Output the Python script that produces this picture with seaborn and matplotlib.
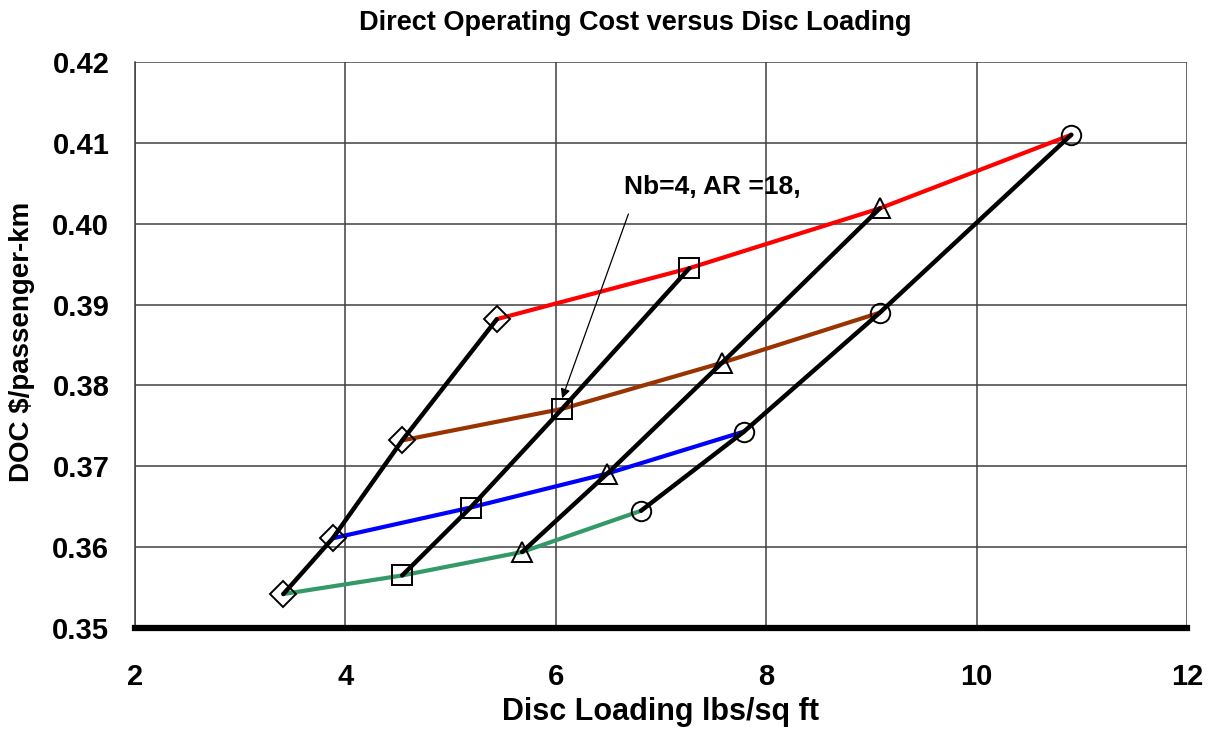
import pandas as pd
import numpy as np
import matplotlib
matplotlib.use("Agg")
import matplotlib.pyplot as plt
import seaborn as sns

# data (one black curve per marker type)
diamond_x = [3.41, 3.88, 4.54, 5.44]
diamond_y = [0.3542, 0.3611, 0.3732, 0.3882]
square_x = [4.54, 5.19, 6.06, 7.27]
square_y = [0.3565, 0.3649, 0.3771, 0.3945]
triangle_x = [5.68, 6.49, 7.58, 9.08]
triangle_y = [0.3594, 0.3691, 0.3828, 0.4019]
circle_x = [6.81, 7.79, 9.08, 10.90]
circle_y = [0.3645, 0.3743, 0.3890, 0.4110]

black_groups = {
    "diamond": (diamond_x, diamond_y, "D", 13),
    "square": (square_x, square_y, "s", 14),
    "triangle": (triangle_x, triangle_y, "^", 15),
    "circle": (circle_x, circle_y, "o", 14),
}
# colored curves join the i-th point of every black curve
cross_colors = ["#339966", "#0000FF", "#993300", "#FF0000"]

x_ticks = [2, 4, 6, 8, 10, 12]
y_ticks = [0.35, 0.36, 0.37, 0.38, 0.39, 0.40, 0.41, 0.42]
y_ticklabels = ["0.35", "0.36", "0.37", "0.38", "0.39", "0.40", "0.41", "0.42"]

sns.set_style("white")
plt.rcParams["font.family"] = ["Liberation Sans", "DejaVu Sans"]
plt.rcParams["font.weight"] = "bold"
plt.rcParams["text.color"] = "black"
plt.rcParams["xtick.color"] = "black"
plt.rcParams["ytick.color"] = "black"

fig = plt.figure(figsize=(12.17, 7.32), dpi=100)
ax = fig.add_axes([135 / 1217, 1 - 628 / 732, (1187 - 135) / 1217, (628 - 62) / 732])

rows = []
for name, (xs, ys, m, ms) in black_groups.items():
    for i, (x, y) in enumerate(zip(xs, ys)):
        rows.append({"group": name, "idx": i, "x": x, "y": y})
df = pd.DataFrame(rows)

# colored cross curves
for i, col in enumerate(cross_colors):
    sub = df[df["idx"] == i]
    sns.lineplot(data=sub, x="x", y="y", sort=False, color=col, linewidth=3.0,
                 ax=ax, zorder=3, legend=False)

# black curves with hollow markers
for name, (xs, ys, m, ms) in black_groups.items():
    sub = df[df["group"] == name]
    sns.lineplot(data=sub, x="x", y="y", sort=False, color="black", linewidth=3.2,
                 ax=ax, zorder=4, legend=False)
    ax.plot(sub["x"], sub["y"], linestyle="none", marker=m, markersize=ms,
            markerfacecolor="none", markeredgecolor="black", markeredgewidth=1.4,
            zorder=5)

ax.set_xlim(2, 12)
ax.set_ylim(0.35, 0.42)
ax.set_xticks(x_ticks)
ax.set_yticks(y_ticks)
ax.set_yticklabels(y_ticklabels)
ax.grid(True, color="#404040", linewidth=1.1)
ax.set_axisbelow(True)
for s in ["top", "right"]:
    ax.spines[s].set_visible(False)
ax.spines["left"].set_color("#404040")
ax.spines["left"].set_linewidth(1.1)
ax.spines["bottom"].set_color("black")
ax.spines["bottom"].set_linewidth(4.5)
ax.spines["bottom"].set_zorder(6)
ax.tick_params(axis="y", direction="out", length=8.5, width=1.1, color="#404040",
               pad=10, labelsize=21, labelcolor="black")
ax.tick_params(axis="x", direction="out", length=7, width=2.5, color="black",
               pad=18, labelsize=21, labelcolor="black")
for lab in ax.get_xticklabels() + ax.get_yticklabels():
    lab.set_fontweight("bold")

ax.set_xlabel("")
ax.set_ylabel("")
fig.text((135 + 1187) / 2 / 1217, 1 - 712 / 732, "Disc Loading lbs/sq ft",
         ha="center", va="center", fontsize=22, fontweight="bold", color="black")
fig.text(22 / 1217, 1 - 342 / 732, "DOC $/passenger-km", rotation=90,
         ha="center", va="center", fontsize=20, fontweight="bold", color="black")
fig.text(635 / 1217, 1 - 23 / 732, "Direct Operating Cost versus Disc Loading",
         ha="center", va="center", fontsize=19.5, fontweight="bold", color="black")

ax.text(6.65, 0.4045, "Nb=4, AR =18,", fontsize=19, fontweight="bold",
        ha="left", va="center", color="black", zorder=7)
ax.annotate("", xy=(6.06, 0.3784), xytext=(6.69, 0.4012),
            arrowprops=dict(arrowstyle="-|>", color="black", lw=0.9,
                            mutation_scale=14, shrinkA=0, shrinkB=0),
            zorder=7)

fig.savefig("out.png", dpi=100)
